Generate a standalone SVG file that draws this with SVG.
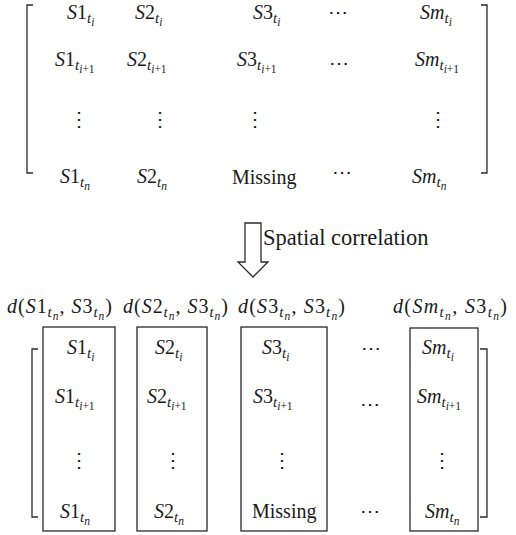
<svg xmlns="http://www.w3.org/2000/svg" width="516" height="535" viewBox="0 0 516 535">
<style>
text{font-family:"Liberation Serif","Times New Roman",serif;font-size:20px;fill:#1a1a1a}
.i{font-style:italic}
.s1{font-size:15px}
.s2{font-size:11.5px}
.lbl{font-size:22.5px}
.dots{font-family:"DejaVu Serif","Liberation Serif",serif;font-size:20px;text-anchor:middle}
.ln{fill:none;stroke:#2a2a2a;stroke-width:1.3}
</style>
<rect width="516" height="535" fill="#fff"/>
<g id="top-matrix">
<path class="ln" d="M33,5H27V173H33M481,5H487V173H481"/>
<g id="top-row1">
<text x="67" y="19"><tspan class="i">S</tspan>1<tspan class="s1 i" dy="4">t</tspan><tspan class="s2 i" dy="3">i</tspan></text>
<text x="135" y="19"><tspan class="i">S</tspan>2<tspan class="s1 i" dy="4">t</tspan><tspan class="s2 i" dy="3">i</tspan></text>
<text x="253" y="19"><tspan class="i">S</tspan>3<tspan class="s1 i" dy="4">t</tspan><tspan class="s2 i" dy="3">i</tspan></text>
<text class="dots" x="338" y="19">⋯</text>
<text x="420" y="19"><tspan class="i">Sm</tspan><tspan class="s1 i" dy="4">t</tspan><tspan class="s2 i" dy="3">i</tspan></text>
</g>
<g id="top-row2">
<text x="55" y="66"><tspan class="i">S</tspan>1<tspan class="s1 i" dy="4">t</tspan><tspan class="s2 i" dy="3">i</tspan><tspan class="s2">+1</tspan></text>
<text x="127" y="66"><tspan class="i">S</tspan>2<tspan class="s1 i" dy="4">t</tspan><tspan class="s2 i" dy="3">i</tspan><tspan class="s2">+1</tspan></text>
<text x="237" y="66"><tspan class="i">S</tspan>3<tspan class="s1 i" dy="4">t</tspan><tspan class="s2 i" dy="3">i</tspan><tspan class="s2">+1</tspan></text>
<text class="dots" x="339" y="70">⋯</text>
<text x="415" y="66"><tspan class="i">Sm</tspan><tspan class="s1 i" dy="4">t</tspan><tspan class="s2 i" dy="3">i</tspan><tspan class="s2">+1</tspan></text>
</g>
<g id="top-row3">
<text class="dots" x="79" y="126">⋮</text>
<text class="dots" x="160" y="126">⋮</text>
<text class="dots" x="255" y="126">⋮</text>
<text class="dots" x="438" y="126">⋮</text>
</g>
<g id="top-row4">
<text x="60" y="183"><tspan class="i">S</tspan>1<tspan class="s1 i" dy="4">t</tspan><tspan class="s2 i" dy="3">n</tspan></text>
<text x="137" y="183"><tspan class="i">S</tspan>2<tspan class="s1 i" dy="4">t</tspan><tspan class="s2 i" dy="3">n</tspan></text>
<text x="232" y="184">Missing</text>
<text class="dots" x="342" y="179">⋯</text>
<text x="412" y="183"><tspan class="i">Sm</tspan><tspan class="s1 i" dy="4">t</tspan><tspan class="s2 i" dy="3">n</tspan></text>
</g>
</g>
<g id="connectors">
<path class="ln" d="M245,223H261V262H268L253,277L238,262H245Z"/>
<text class="lbl" x="263" y="245">Spatial correlation</text>
</g>
<g id="bottom-matrix">
<path class="ln" d="M38,349H32V517H38M480,349H487V517H480"/>
</g>
<g id="col1">
<text x="7" y="313" textLength="105"><tspan class="i">d</tspan>(<tspan class="i">S</tspan>1<tspan class="s1 i" dy="4">t</tspan><tspan class="s2 i" dy="3">n</tspan><tspan dy="-7">, </tspan><tspan class="i">S</tspan>3<tspan class="s1 i" dy="4">t</tspan><tspan class="s2 i" dy="3">n</tspan><tspan dy="-7">)</tspan></text>
<rect class="ln" x="43" y="327" width="72" height="204"/>
<text x="67" y="354"><tspan class="i">S</tspan>1<tspan class="s1 i" dy="4">t</tspan><tspan class="s2 i" dy="3">i</tspan></text>
<text x="55" y="403"><tspan class="i">S</tspan>1<tspan class="s1 i" dy="4">t</tspan><tspan class="s2 i" dy="3">i</tspan><tspan class="s2">+1</tspan></text>
<text class="dots" x="79" y="467">⋮</text>
<text x="60" y="518"><tspan class="i">S</tspan>1<tspan class="s1 i" dy="4">t</tspan><tspan class="s2 i" dy="3">n</tspan></text>
</g>
<g id="col2">
<text x="123" y="313" textLength="105"><tspan class="i">d</tspan>(<tspan class="i">S</tspan>2<tspan class="s1 i" dy="4">t</tspan><tspan class="s2 i" dy="3">n</tspan><tspan dy="-7">, </tspan><tspan class="i">S</tspan>3<tspan class="s1 i" dy="4">t</tspan><tspan class="s2 i" dy="3">n</tspan><tspan dy="-7">)</tspan></text>
<rect class="ln" x="137" y="327" width="70" height="204"/>
<text x="155" y="354"><tspan class="i">S</tspan>2<tspan class="s1 i" dy="4">t</tspan><tspan class="s2 i" dy="3">i</tspan></text>
<text x="147" y="403"><tspan class="i">S</tspan>2<tspan class="s1 i" dy="4">t</tspan><tspan class="s2 i" dy="3">i</tspan><tspan class="s2">+1</tspan></text>
<text class="dots" x="173" y="467">⋮</text>
<text x="154" y="518"><tspan class="i">S</tspan>2<tspan class="s1 i" dy="4">t</tspan><tspan class="s2 i" dy="3">n</tspan></text>
</g>
<g id="col3">
<text x="238" y="313" textLength="107"><tspan class="i">d</tspan>(<tspan class="i">S</tspan>3<tspan class="s1 i" dy="4">t</tspan><tspan class="s2 i" dy="3">n</tspan><tspan dy="-7">, </tspan><tspan class="i">S</tspan>3<tspan class="s1 i" dy="4">t</tspan><tspan class="s2 i" dy="3">n</tspan><tspan dy="-7">)</tspan></text>
<rect class="ln" x="241" y="327" width="86" height="204"/>
<text x="262" y="354"><tspan class="i">S</tspan>3<tspan class="s1 i" dy="4">t</tspan><tspan class="s2 i" dy="3">i</tspan></text>
<text x="253" y="403"><tspan class="i">S</tspan>3<tspan class="s1 i" dy="4">t</tspan><tspan class="s2 i" dy="3">i</tspan><tspan class="s2">+1</tspan></text>
<text class="dots" x="282" y="467">⋮</text>
<text x="252" y="518">Missing</text>
</g>
<g id="col-dots">
<text class="dots" x="371" y="355">⋯</text>
<text class="dots" x="370" y="411">⋯</text>
<text class="dots" x="370" y="518">⋯</text>
</g>
<g id="col4">
<text x="393" y="313" textLength="114"><tspan class="i">d</tspan>(<tspan class="i">Sm</tspan><tspan class="s1 i" dy="4">t</tspan><tspan class="s2 i" dy="3">n</tspan><tspan dy="-7">, </tspan><tspan class="i">S</tspan>3<tspan class="s1 i" dy="4">t</tspan><tspan class="s2 i" dy="3">n</tspan><tspan dy="-7">)</tspan></text>
<rect class="ln" x="410" y="328" width="68" height="203"/>
<text x="422" y="354"><tspan class="i">Sm</tspan><tspan class="s1 i" dy="4">t</tspan><tspan class="s2 i" dy="3">i</tspan></text>
<text x="417" y="403"><tspan class="i">Sm</tspan><tspan class="s1 i" dy="4">t</tspan><tspan class="s2 i" dy="3">i</tspan><tspan class="s2">+1</tspan></text>
<text class="dots" x="442" y="467">⋮</text>
<text x="425" y="518"><tspan class="i">Sm</tspan><tspan class="s1 i" dy="4">t</tspan><tspan class="s2 i" dy="3">n</tspan></text>
</g>
</svg>
